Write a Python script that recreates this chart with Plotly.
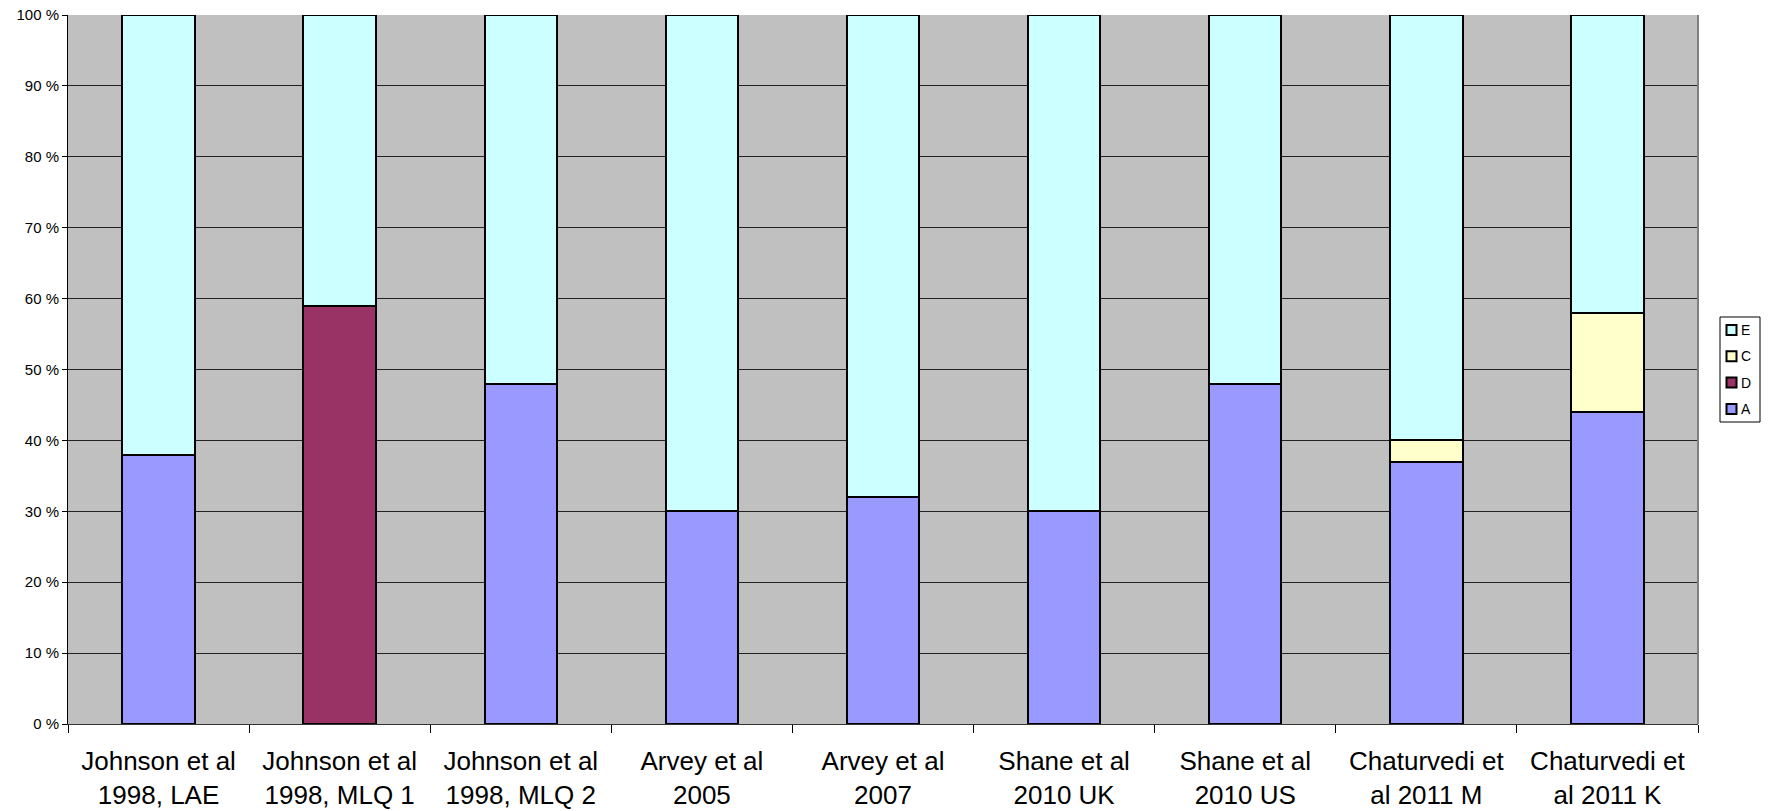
import plotly.graph_objects as go

studies = [
    "Johnson et al<br>1998, LAE",
    "Johnson et al<br>1998, MLQ 1",
    "Johnson et al<br>1998, MLQ 2",
    "Arvey et al<br>2005",
    "Arvey et al<br>2007",
    "Shane et al<br>2010 UK",
    "Shane et al<br>2010 US",
    "Chaturvedi et<br>al 2011 M",
    "Chaturvedi et<br>al 2011 K",
]

# Variance components (%) per study
A = [38, 0, 48, 30, 32, 30, 48, 37, 44]
D = [0, 59, 0, 0, 0, 0, 0, 0, 0]
C = [0, 0, 0, 0, 0, 0, 0, 3, 14]
E = [62, 41, 52, 70, 68, 70, 52, 60, 42]

y_ticks = list(range(0, 101, 10))
y_labels = [f"{v} %" for v in y_ticks]

# stacked bottom to top
series = [
    ("A", A, "#9999FF"),
    ("D", D, "#993366"),
    ("C", C, "#FFFFCC"),
    ("E", E, "#CCFFFF"),
]

W, H = 1769, 811
L, R, T, B = 68, 71, 15, 87
PW, PH = W - L - R, H - T - B


def px_x(px):
    return (px - L) / PW


def px_y(py):
    return (H - B - py) / PH


fig = go.Figure()
for name, vals, color in series:
    fig.add_trace(go.Bar(
        name=name,
        x=studies,
        y=vals,
        width=0.4,
        marker=dict(color=color, line=dict(color="black", width=2)),
        showlegend=False,
    ))

font_family = "Liberation Sans, Arial, sans-serif"

# Boxed key at the right, top entry = top of stack
shapes = [
    dict(type="line", xref="paper", yref="paper", x0=1, x1=1, y0=0, y1=1,
         line=dict(color="#808080", width=2)),
    dict(type="rect", xref="paper", yref="paper",
         x0=px_x(1720), x1=px_x(1760), y0=px_y(422), y1=px_y(317),
         fillcolor="white", line=dict(color="black", width=1)),
]
annotations = []
key_top, key_step = 330, 26.3
for i, (name, _, color) in enumerate(reversed(series)):
    cy = key_top + i * key_step
    shapes.append(dict(
        type="rect", xref="paper", yref="paper",
        x0=px_x(1726.5), x1=px_x(1736.5), y0=px_y(cy + 5), y1=px_y(cy - 5),
        fillcolor=color, line=dict(color="black", width=2),
    ))
    annotations.append(dict(
        xref="paper", yref="paper", x=px_x(1739), y=px_y(cy),
        xanchor="left", yanchor="middle", text=name, showarrow=False,
        font=dict(size=14, family=font_family, color="black"),
    ))

fig.update_layout(
    barmode="stack",
    width=W,
    height=H,
    margin=dict(l=L, r=R, t=T, b=B, autoexpand=False),
    paper_bgcolor="white",
    plot_bgcolor="#C0C0C0",
    font=dict(family=font_family, color="black"),
    showlegend=False,
    xaxis=dict(
        type="category",
        tickson="boundaries",
        ticks="outside",
        ticklen=8,
        tickcolor="black",
        tickfont=dict(size=26, family=font_family),
        ticklabelstandoff=14,
        showline=True,
        linecolor="#333333",
        linewidth=1,
        showgrid=False,
        range=[-0.5, 8.5],
    ),
    yaxis=dict(
        range=[0, 100],
        tickvals=y_ticks,
        ticktext=y_labels,
        ticks="outside",
        ticklen=5,
        tickcolor="black",
        tickfont=dict(size=15, family=font_family),
        showline=True,
        linecolor="black",
        linewidth=1,
        showgrid=True,
        gridcolor="#222222",
        gridwidth=1,
        zeroline=False,
    ),
    shapes=shapes,
    annotations=annotations,
)

fig.write_html("out.html")
